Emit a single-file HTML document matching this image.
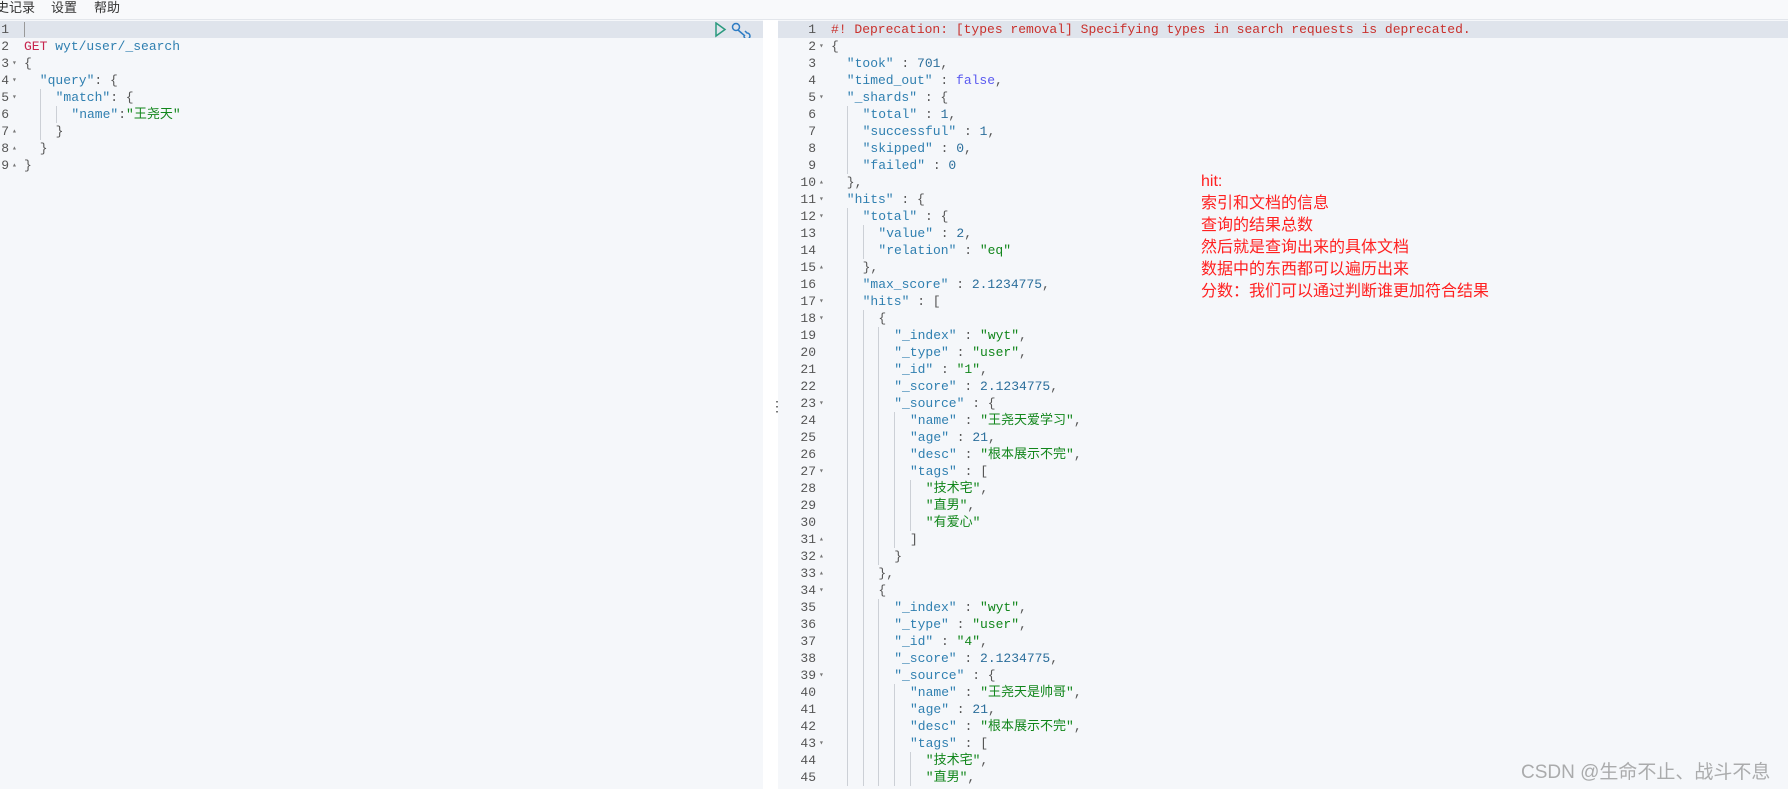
<!DOCTYPE html>
<html><head><meta charset="utf-8"><style>
*{margin:0;padding:0;box-sizing:border-box}
body{width:1788px;height:789px;overflow:hidden;background:#fff;position:relative;font-family:"Liberation Mono","Noto Sans CJK SC",monospace}
.hdr{position:absolute;left:0;top:0;width:1788px;height:20px;background:#f8f9fb;border-bottom:1px solid #e3e6eb;font:13px "Liberation Sans","Noto Sans CJK SC",sans-serif;color:#333}
.hdr span{position:absolute;top:-3px}
.pane{position:absolute;top:20px;height:769px;background:#f5f7fa}
.hl{position:absolute;top:21px;height:17px;background:#dfe4ec}
.code{position:absolute;font-size:13px;line-height:17px;white-space:pre;color:#555}
.ln{position:absolute;font-size:13px;line-height:17px;color:#555;text-align:right;white-space:pre}
.fd{position:absolute;font-size:8px;line-height:17px;color:#777;white-space:pre}
.g{display:inline-block;width:15.8px;height:17px;vertical-align:top;border-left:1px solid #ccd0d6}
.s{display:inline-block;width:15.8px;height:17px;vertical-align:top}
.k{color:#2f7fb0}.st{color:#11861b}.n{color:#2b6e9b}.b{color:#5a5af0}.r{color:#c9302c}
.note{position:absolute;left:1201px;font:16px "Liberation Sans","Noto Sans CJK SC",sans-serif;color:#ff2020;line-height:22px;white-space:pre}
</style></head><body>
<div class="hdr"><span style="left:-4px">史记录</span><span style="left:51px">设置</span><span style="left:94px">帮助</span></div>
<div class="pane" style="left:0;width:763px"></div>
<div class="pane" style="left:778px;width:1010px"></div>
<div class="hl" style="left:0;width:763px"></div>
<div class="hl" style="left:778px;width:1010px"></div>
<div style="position:absolute;left:24px;top:22px;width:1px;height:15px;background:#999"></div>
<div style="position:absolute;left:770px;top:398px;font:14px sans-serif;color:#444">⋮</div>
<svg style="position:absolute;left:714px;top:22px" width="40" height="16"><path d="M2 1 L11 7.5 L2 14 Z" fill="none" stroke="#2a9a7e" stroke-width="1.5"/><g fill="none" stroke="#2d7cc4" stroke-width="1.5"><circle cx="22" cy="5" r="3.5"/><path d="M24 8 L31 14 M31 9 L33 11 A3 3 0 1 1 30 14"/></g></svg>

<div class="ln" style="left:0;top:21px;width:9px">1
2
3
4
5
6
7
8
9</div>
<div class="fd" style="left:12px;top:21px">

▾
▾
▾

▴
▴
▴</div>
<div class="code" style="left:24px;top:21px">
<span style="color:#c7254e">GET</span> <span class="k">wyt/user/_search</span>
{
<span class="s"></span><span class="k">"query"</span>: {
<span class="s"></span><span class="g"></span><span class="k">"match"</span>: {
<span class="s"></span><span class="g"></span><span class="g"></span><span class="k">"name"</span>:<span class="st">"王尧天"</span>
<span class="s"></span><span class="g"></span>}
<span class="s"></span>}
}</div>

<div class="ln" style="left:780px;top:21px;width:36px">1
2
3
4
5
6
7
8
9
10
11
12
13
14
15
16
17
18
19
20
21
22
23
24
25
26
27
28
29
30
31
32
33
34
35
36
37
38
39
40
41
42
43
44
45</div>
<div class="fd" style="left:819px;top:21px">
▾


▾




▴
▾
▾


▴

▾
▾




▾



▾



▴
▴
▴
▾




▾



▾</div>
<div class="code" style="left:831px;top:21px"><span class="r">#! Deprecation: [types removal] Specifying types in search requests is deprecated.</span>
{
<span class="s"></span><span class="k">"took"</span> : <span class="n">701</span>,
<span class="s"></span><span class="k">"timed_out"</span> : <span class="b">false</span>,
<span class="s"></span><span class="k">"_shards"</span> : {
<span class="s"></span><span class="g"></span><span class="k">"total"</span> : <span class="n">1</span>,
<span class="s"></span><span class="g"></span><span class="k">"successful"</span> : <span class="n">1</span>,
<span class="s"></span><span class="g"></span><span class="k">"skipped"</span> : <span class="n">0</span>,
<span class="s"></span><span class="g"></span><span class="k">"failed"</span> : <span class="n">0</span>
<span class="s"></span>},
<span class="s"></span><span class="k">"hits"</span> : {
<span class="s"></span><span class="g"></span><span class="k">"total"</span> : {
<span class="s"></span><span class="g"></span><span class="g"></span><span class="k">"value"</span> : <span class="n">2</span>,
<span class="s"></span><span class="g"></span><span class="g"></span><span class="k">"relation"</span> : <span class="st">"eq"</span>
<span class="s"></span><span class="g"></span>},
<span class="s"></span><span class="g"></span><span class="k">"max_score"</span> : <span class="n">2.1234775</span>,
<span class="s"></span><span class="g"></span><span class="k">"hits"</span> : [
<span class="s"></span><span class="g"></span><span class="g"></span>{
<span class="s"></span><span class="g"></span><span class="g"></span><span class="g"></span><span class="k">"_index"</span> : <span class="st">"wyt"</span>,
<span class="s"></span><span class="g"></span><span class="g"></span><span class="g"></span><span class="k">"_type"</span> : <span class="st">"user"</span>,
<span class="s"></span><span class="g"></span><span class="g"></span><span class="g"></span><span class="k">"_id"</span> : <span class="st">"1"</span>,
<span class="s"></span><span class="g"></span><span class="g"></span><span class="g"></span><span class="k">"_score"</span> : <span class="n">2.1234775</span>,
<span class="s"></span><span class="g"></span><span class="g"></span><span class="g"></span><span class="k">"_source"</span> : {
<span class="s"></span><span class="g"></span><span class="g"></span><span class="g"></span><span class="g"></span><span class="k">"name"</span> : <span class="st">"王尧天爱学习"</span>,
<span class="s"></span><span class="g"></span><span class="g"></span><span class="g"></span><span class="g"></span><span class="k">"age"</span> : <span class="n">21</span>,
<span class="s"></span><span class="g"></span><span class="g"></span><span class="g"></span><span class="g"></span><span class="k">"desc"</span> : <span class="st">"根本展示不完"</span>,
<span class="s"></span><span class="g"></span><span class="g"></span><span class="g"></span><span class="g"></span><span class="k">"tags"</span> : [
<span class="s"></span><span class="g"></span><span class="g"></span><span class="g"></span><span class="g"></span><span class="g"></span><span class="st">"技术宅"</span>,
<span class="s"></span><span class="g"></span><span class="g"></span><span class="g"></span><span class="g"></span><span class="g"></span><span class="st">"直男"</span>,
<span class="s"></span><span class="g"></span><span class="g"></span><span class="g"></span><span class="g"></span><span class="g"></span><span class="st">"有爱心"</span>
<span class="s"></span><span class="g"></span><span class="g"></span><span class="g"></span><span class="g"></span>]
<span class="s"></span><span class="g"></span><span class="g"></span><span class="g"></span>}
<span class="s"></span><span class="g"></span><span class="g"></span>},
<span class="s"></span><span class="g"></span><span class="g"></span>{
<span class="s"></span><span class="g"></span><span class="g"></span><span class="g"></span><span class="k">"_index"</span> : <span class="st">"wyt"</span>,
<span class="s"></span><span class="g"></span><span class="g"></span><span class="g"></span><span class="k">"_type"</span> : <span class="st">"user"</span>,
<span class="s"></span><span class="g"></span><span class="g"></span><span class="g"></span><span class="k">"_id"</span> : <span class="st">"4"</span>,
<span class="s"></span><span class="g"></span><span class="g"></span><span class="g"></span><span class="k">"_score"</span> : <span class="n">2.1234775</span>,
<span class="s"></span><span class="g"></span><span class="g"></span><span class="g"></span><span class="k">"_source"</span> : {
<span class="s"></span><span class="g"></span><span class="g"></span><span class="g"></span><span class="g"></span><span class="k">"name"</span> : <span class="st">"王尧天是帅哥"</span>,
<span class="s"></span><span class="g"></span><span class="g"></span><span class="g"></span><span class="g"></span><span class="k">"age"</span> : <span class="n">21</span>,
<span class="s"></span><span class="g"></span><span class="g"></span><span class="g"></span><span class="g"></span><span class="k">"desc"</span> : <span class="st">"根本展示不完"</span>,
<span class="s"></span><span class="g"></span><span class="g"></span><span class="g"></span><span class="g"></span><span class="k">"tags"</span> : [
<span class="s"></span><span class="g"></span><span class="g"></span><span class="g"></span><span class="g"></span><span class="g"></span><span class="st">"技术宅"</span>,
<span class="s"></span><span class="g"></span><span class="g"></span><span class="g"></span><span class="g"></span><span class="g"></span><span class="st">"直男"</span>,</div>

<div class="note" style="top:171px">hit:
索引和文档的信息
查询的结果总数
然后就是查询出来的具体文档
数据中的东西都可以遍历出来
分数：我们可以通过判断谁更加符合结果</div>
<div style="position:absolute;left:1521px;top:757px;font:19px 'Liberation Sans','Noto Sans CJK SC',sans-serif;color:rgba(120,120,120,0.6);white-space:nowrap">CSDN @生命不止、战斗不息</div>
</body></html>
